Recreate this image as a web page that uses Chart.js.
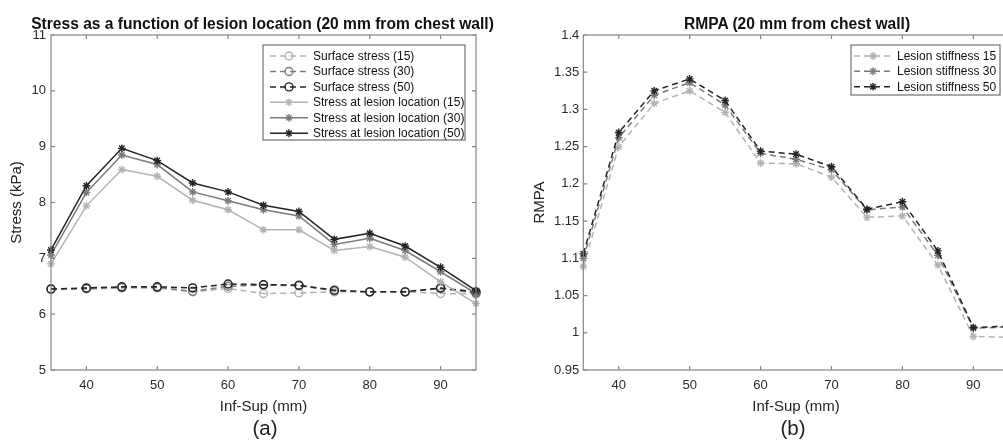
<!DOCTYPE html>
<html>
<head>
<meta charset="utf-8">
<script src="https://cdn.jsdelivr.net/npm/chart.js@4.4.1/dist/chart.umd.min.js"></script>
<style>
  html, body { margin: 0; padding: 0; background: #fff; width: 1003px; height: 441px; overflow: hidden; }
  body { position: relative; font-family: "Liberation Sans", Arial, sans-serif; color: #111; }
  .panel { position: absolute; top: 0; height: 441px; }
  .panel canvas { position: absolute; left: 0; top: 0; }
  .title { position: absolute; top: 15px; font-size: 15.6px; font-weight: bold; line-height: 18px; white-space: nowrap; transform: translateX(-50%); }
  .caption { position: absolute; top: 416px; font-size: 20.5px; line-height: 24px; white-space: nowrap; transform: translateX(-50%); color: #222; }
</style>
</head>
<body>
  <div class="panel" id="panel-a" style="left:0;width:500px">
    <canvas id="stress-chart" width="500" height="441"></canvas>
    <div class="title" style="left:262.5px">Stress as a function of lesion location (20 mm from chest wall)</div>
    <div class="caption" style="left:265px">(a)</div>
  </div>
  <div class="panel" id="panel-b" style="left:500px;width:530px">
    <canvas id="rmpa-chart" width="530" height="441"></canvas>
    <div class="title" style="left:297px">RMPA (20 mm from chest wall)</div>
    <div class="caption" style="left:293px">(b)</div>
  </div>

<script>
  // Inf-Sup position of the lesion (mm)
  const infSup = [35, 40, 45, 50, 55, 60, 65, 70, 75, 80, 85, 90, 95];

  // (a) stress, kPa
  const surfaceStress15 = [6.44, 6.45, 6.47, 6.47, 6.40, 6.46, 6.37, 6.38, 6.40, 6.40, 6.40, 6.37, 6.36];
  const surfaceStress30 = [6.45, 6.46, 6.48, 6.48, 6.41, 6.50, 6.52, 6.51, 6.42, 6.40, 6.40, 6.46, 6.38];
  const surfaceStress50 = [6.45, 6.47, 6.49, 6.49, 6.47, 6.54, 6.53, 6.52, 6.43, 6.40, 6.40, 6.47, 6.40];
  const lesionStress15 = [6.90, 7.94, 8.59, 8.47, 8.04, 7.87, 7.51, 7.51, 7.14, 7.21, 7.02, 6.58, 6.19];
  const lesionStress30 = [7.06, 8.18, 8.85, 8.68, 8.19, 8.03, 7.87, 7.76, 7.25, 7.36, 7.14, 6.76, 6.37];
  const lesionStress50 = [7.15, 8.30, 8.97, 8.75, 8.35, 8.19, 7.95, 7.84, 7.34, 7.45, 7.22, 6.84, 6.42];

  // (b) RMPA
  const rmpa15 = [1.089, 1.250, 1.308, 1.325, 1.296, 1.228, 1.227, 1.209, 1.155, 1.157, 1.091, 0.995, 0.994];
  const rmpa30 = [1.100, 1.262, 1.319, 1.336, 1.306, 1.241, 1.233, 1.219, 1.165, 1.169, 1.104, 1.006, 1.008];
  const rmpa50 = [1.106, 1.269, 1.325, 1.341, 1.312, 1.244, 1.240, 1.223, 1.166, 1.176, 1.110, 1.007, 1.009];

  // tick values
  const xTicks = [40, 50, 60, 70, 80, 90];
  const stressTicks = [5, 6, 7, 8, 9, 10, 11];
  const rmpaTicks = [0.95, 1, 1.05, 1.1, 1.15, 1.2, 1.25, 1.3, 1.35, 1.4];

  const LIGHT = "#b3b3b3";
  const MID = "#7b7b7b";
  const DARK = "#242424";
  const TEXT = "#2b2b2b";

  Chart.defaults.font.family = '"Liberation Sans", Arial, sans-serif';
  Chart.defaults.color = TEXT;

  function series(label, values, color, marker, dashed, index, total) {
    return {
      label,
      data: values.map((y, i) => ({ x: infSup[i], y })),
      borderColor: color,
      backgroundColor: color,
      borderWidth: 1.5,
      borderDash: dashed ? [6, 4] : [],
      pointStyle: marker,
      pointRadius: marker === "circle" ? 4 : 3.9,
      pointHoverRadius: 4,
      pointBorderWidth: 1.4,
      pointBorderColor: color,
      pointBackgroundColor: marker === "circle" ? "rgba(0,0,0,0)" : color,
      tension: 0,
      clip: false,
      order: total - index
    };
  }

  // MATLAB-style box with inward tick marks
  const boxAxes = {
    id: "boxAxes",
    afterDatasetsDraw(chart) {
      const { ctx, chartArea: a, scales } = chart;
      ctx.save();
      ctx.strokeStyle = "#858585";
      ctx.lineWidth = 1.2;
      ctx.setLineDash([]);
      ctx.strokeRect(a.left, a.top, a.right - a.left, a.bottom - a.top);
      ctx.beginPath();
      scales.x.ticks.forEach(t => {
        const px = scales.x.getPixelForValue(t.value);
        ctx.moveTo(px, a.bottom); ctx.lineTo(px, a.bottom - 4);
        ctx.moveTo(px, a.top); ctx.lineTo(px, a.top + 4);
      });
      scales.y.ticks.forEach(t => {
        const py = scales.y.getPixelForValue(t.value);
        ctx.moveTo(a.left, py); ctx.lineTo(a.left + 4, py);
        ctx.moveTo(a.right, py); ctx.lineTo(a.right - 4, py);
      });
      ctx.stroke();
      ctx.restore();
    }
  };

  // legend box drawn inside the plot area (top right)
  const boxLegend = {
    id: "boxLegend",
    afterDraw(chart, args, opts) {
      const { ctx, chartArea: a } = chart;
      const left = a.right - opts.right - opts.width;
      const top = a.top + opts.top;
      ctx.save();
      ctx.fillStyle = "#fff";
      ctx.fillRect(left, top, opts.width, opts.height);
      ctx.strokeStyle = "#555";
      ctx.lineWidth = 1;
      ctx.setLineDash([]);
      ctx.strokeRect(left, top, opts.width, opts.height);
      ctx.font = '12px "Liberation Sans", Arial, sans-serif';
      ctx.textBaseline = "middle";
      chart.data.datasets.forEach((ds, i) => {
        const y = top + opts.firstRow + i * opts.rowHeight;
        const x0 = left + opts.sampleFrom;
        const x1 = left + opts.sampleTo;
        ctx.strokeStyle = ds.borderColor;
        ctx.lineWidth = ds.borderWidth;
        ctx.setLineDash(ds.borderDash);
        ctx.beginPath();
        ctx.moveTo(x0, y); ctx.lineTo(x1, y);
        ctx.stroke();
        ctx.setLineDash([]);
        ctx.fillStyle = ds.pointBackgroundColor;
        ctx.strokeStyle = ds.pointBorderColor;
        ctx.lineWidth = ds.pointBorderWidth;
        Chart.helpers.drawPoint(ctx, { pointStyle: ds.pointStyle, radius: ds.pointRadius, borderWidth: ds.pointBorderWidth, rotation: 0 }, (x0 + x1) / 2, y);
        ctx.fillStyle = "#111";
        ctx.fillText(ds.label, left + opts.textX, y + 0.5);
      });
      ctx.restore();
    }
  };

  function tickLabel(value) {
    return String(Number(value.toFixed(2)));
  }

  function buildOptions(cfg) {
    return {
      responsive: false,
      animation: false,
      events: [],
      layout: { padding: { top: 35, right: cfg.canvasWidth - cfg.areaRight, bottom: 21, left: 0 } },
      plugins: {
        legend: { display: false },
        tooltip: { enabled: false },
        title: { display: false },
        boxLegend: cfg.legend
      },
      scales: {
        x: {
          type: "linear",
          min: 35,
          max: 95,
          afterFit: scale => { scale.height = 50; },
          afterBuildTicks: scale => { scale.ticks = xTicks.map(value => ({ value })); },
          grid: { display: false, drawTicks: false },
          border: { display: false },
          ticks: { padding: 8, color: TEXT, font: { size: 13 }, callback: tickLabel, maxRotation: 0 },
          title: { display: true, text: "Inf-Sup (mm)", color: "#222", font: { size: 15 }, padding: { top: 0, bottom: 4 } }
        },
        y: {
          type: "linear",
          min: cfg.yMin,
          max: cfg.yMax,
          afterFit: scale => { scale.width = cfg.areaLeft; },
          afterBuildTicks: scale => { scale.ticks = cfg.yTicks.map(value => ({ value })); },
          grid: { display: false, drawTicks: false },
          border: { display: false },
          ticks: { padding: cfg.tickPad, color: TEXT, font: { size: 13 }, callback: tickLabel },
          title: { display: true, text: cfg.yTitle, color: "#222", font: { size: 15 }, padding: { top: cfg.yTitlePad, bottom: 0 } }
        }
      }
    };
  }

  const stressSeries = [
    ["Surface stress (15)", surfaceStress15, LIGHT, "circle", true],
    ["Surface stress (30)", surfaceStress30, MID, "circle", true],
    ["Surface stress (50)", surfaceStress50, DARK, "circle", true],
    ["Stress at lesion location (15)", lesionStress15, LIGHT, "star", false],
    ["Stress at lesion location (30)", lesionStress30, MID, "star", false],
    ["Stress at lesion location (50)", lesionStress50, DARK, "star", false]
  ];

  const rmpaSeries = [
    ["Lesion stiffness 15", rmpa15, LIGHT, "star", true],
    ["Lesion stiffness 30", rmpa30, MID, "star", true],
    ["Lesion stiffness 50", rmpa50, DARK, "star", true]
  ];

  new Chart(document.getElementById("stress-chart"), {
    type: "line",
    data: { datasets: stressSeries.map((s, i) => series(s[0], s[1], s[2], s[3], s[4], i, stressSeries.length)) },
    options: buildOptions({
      canvasWidth: 500, areaLeft: 51, areaRight: 476,
      yMin: 5, yMax: 11, yTicks: stressTicks, yTitle: "Stress (kPa)", yTitlePad: 8, tickPad: 5,
      legend: { right: 11, top: 10, width: 202, height: 95, firstRow: 11, rowHeight: 15.45, sampleFrom: 7, sampleTo: 45, textX: 50 }
    }),
    plugins: [boxAxes, boxLegend]
  });

  new Chart(document.getElementById("rmpa-chart"), {
    type: "line",
    data: { datasets: rmpaSeries.map((s, i) => series(s[0], s[1], s[2], s[3], s[4], i, rmpaSeries.length)) },
    options: buildOptions({
      canvasWidth: 530, areaLeft: 83.3, areaRight: 508.8,
      yMin: 0.95, yMax: 1.4, yTicks: rmpaTicks, yTitle: "RMPA", yTitlePad: 31, tickPad: 4,
      legend: { right: 8.8, top: 10, width: 149, height: 50, firstRow: 11, rowHeight: 15.35, sampleFrom: 3, sampleTo: 41, textX: 46 }
    }),
    plugins: [boxAxes, boxLegend]
  });
</script>
</body>
</html>
